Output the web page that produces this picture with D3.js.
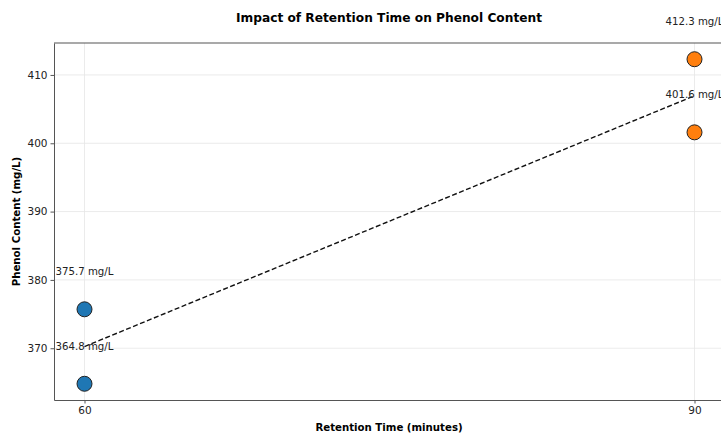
<!DOCTYPE html>
<html>
<head>
<meta charset="utf-8">
<script src="https://cdn.jsdelivr.net/npm/d3@7"></script>
<style>
body { margin: 0; background: #fff; }
text { font-family: "DejaVu Sans", sans-serif; }
</style>
</head>
<body>
<script>
// data
var times = [60, 60, 90, 90];
var phenol = [375.7, 364.8, 412.3, 401.6];
var groupColor = ["#1f77b4", "#1f77b4", "#ff7f0e", "#ff7f0e"];
var xTicks = [60, 90];
var yTicks = [370, 380, 390, 400, 410];

var width = 721, height = 433;
var margin = {left: 54, top: 43, right: -4, bottom: 33};

var svg = d3.select("body").append("svg")
    .attr("width", width)
    .attr("height", height);

// 5% padding like matplotlib
var xr = d3.extent(times), yr = d3.extent(phenol);
var xpad = (xr[1] - xr[0]) * 0.05, ypad = (yr[1] - yr[0]) * 0.05;

var x = d3.scaleLinear()
    .domain([xr[0] - xpad, xr[1] + xpad])
    .range([margin.left, width - margin.right]);
var y = d3.scaleLinear()
    .domain([yr[0] - ypad, yr[1] + ypad])
    .range([height - margin.bottom, margin.top]);

// grid
svg.append("g").selectAll("line").data(yTicks).enter().append("line")
    .attr("x1", margin.left).attr("x2", width)
    .attr("y1", d => y(d)).attr("y2", d => y(d))
    .attr("stroke", "#e6e6e6").attr("stroke-width", 0.8);
svg.append("g").selectAll("line").data(xTicks).enter().append("line")
    .attr("x1", d => x(d)).attr("x2", d => x(d))
    .attr("y1", margin.top).attr("y2", height - margin.bottom)
    .attr("stroke", "#e6e6e6").attr("stroke-width", 0.8);

// axes
var xAxis = svg.append("g")
    .attr("transform", "translate(0," + (height - margin.bottom) + ")")
    .call(d3.axisBottom(x).tickValues(xTicks).tickSize(3.5).tickSizeOuter(0).tickPadding(3));
var yAxis = svg.append("g")
    .attr("transform", "translate(" + margin.left + ",0)")
    .call(d3.axisLeft(y).tickValues(yTicks).tickSize(3.5).tickSizeOuter(0).tickPadding(3));
[xAxis, yAxis].forEach(function(a) {
    a.select(".domain").attr("stroke", "#555").attr("stroke-width", 1);
    a.selectAll(".tick line").attr("stroke", "#555");
    a.selectAll(".tick text").attr("font-size", "10.5px").attr("fill", "#222")
        .attr("font-family", "DejaVu Sans");
});

// top spine
svg.append("line")
    .attr("x1", margin.left).attr("x2", width)
    .attr("y1", margin.top).attr("y2", margin.top)
    .attr("stroke", "#555").attr("stroke-width", 1.2);

// trend line (least squares fit)
var mx = d3.mean(times), my = d3.mean(phenol);
var slope = d3.sum(times, (t, i) => (t - mx) * (phenol[i] - my)) / d3.sum(times, t => (t - mx) * (t - mx));
var icpt = my - slope * mx;
svg.append("line")
    .attr("x1", x(xr[0])).attr("y1", y(icpt + slope * xr[0]))
    .attr("x2", x(xr[1])).attr("y2", y(icpt + slope * xr[1]))
    .attr("stroke", "#111").attr("stroke-width", 1.4)
    .attr("stroke-dasharray", "5,2.5");

// points
svg.append("g").selectAll("circle").data(times).enter().append("circle")
    .attr("cx", d => x(d))
    .attr("cy", (d, i) => y(phenol[i]))
    .attr("r", 7.5)
    .attr("fill", (d, i) => groupColor[i])
    .attr("stroke", "#222").attr("stroke-width", 1);

// value labels
svg.append("g").selectAll("text").data(times).enter().append("text")
    .attr("x", d => x(d))
    .attr("y", (d, i) => y(phenol[i]) - 34)
    .attr("text-anchor", "middle")
    .attr("font-size", "10.2px")
    .attr("fill", "#222")
    .text((d, i) => phenol[i].toFixed(1) + " mg/L");

// titles
svg.append("text")
    .attr("x", 389).attr("y", 22)
    .attr("text-anchor", "middle")
    .attr("font-size", "12.2px").attr("font-weight", "bold")
    .text("Impact of Retention Time on Phenol Content");
svg.append("text")
    .attr("x", 389).attr("y", 431)
    .attr("text-anchor", "middle")
    .attr("font-size", "10.2px").attr("font-weight", "bold")
    .text("Retention Time (minutes)");
svg.append("text")
    .attr("transform", "translate(20," + ((margin.top + height - margin.bottom) / 2) + ") rotate(-90)")
    .attr("text-anchor", "middle")
    .attr("font-size", "10.2px").attr("font-weight", "bold")
    .text("Phenol Content (mg/L)");
</script>
</body>
</html>
